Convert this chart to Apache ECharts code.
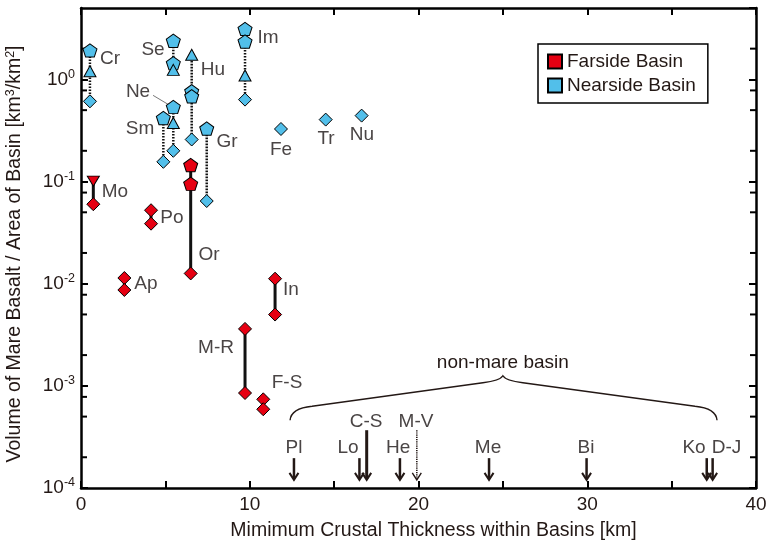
<!DOCTYPE html>
<html>
<head>
<meta charset="utf-8">
<script src="https://cdn.jsdelivr.net/npm/echarts@6/dist/echarts.min.js"></script>
<style>
html, body { margin: 0; padding: 0; background: #fff; }
#chart { width: 769px; height: 545px; }
</style>
</head>
<body>
<div id="chart"></div>
<script>
// nearside basins: thickness (km) and estimates (km3/km2), one method code per estimate
// P = pentagon, T = triangle, D = diamond, V = down triangle
const nearNames = ["Cr", "Se", "Ne", "Sm", "Hu", "Im", "Gr", "Fe", "Tr", "Nu"];
const nearThickness = [0.53, 5.47, 5.47, 4.88, 6.56, 9.72, 7.45, 11.85, 14.5, 16.63];
const nearValues = [
	[1.92, 1.2, 0.61],
	[2.39, 1.44, 1.24],
	[0.537, 0.375, 0.2],
	[0.419, 0.156],
	[1.74, 0.764, 0.683, 0.258],
	[3.12, 2.35, 1.09, 0.634],
	[0.33, 0.0645],
	[0.327],
	[0.404],
	[0.442],
];
const nearMethods = [
	["P", "T", "D"], ["P", "P", "T"], ["P", "T", "D"], ["P", "D"], ["T", "P", "P", "D"],
	["P", "P", "T", "D"], ["P", "D"], ["D"], ["D"], ["D"],
];

// farside basins
const farNames = ["Mo", "Po", "Or", "Ap", "In", "M-R", "F-S"];
const farThickness = [0.73, 4.15, 6.5, 2.57, 11.5, 9.72, 10.8];
const farValues = [
	[0.101, 0.06],
	[0.0524, 0.0387],
	[0.145, 0.0952, 0.0126],
	[0.01137, 0.00868],
	[0.0112, 0.00499],
	[0.00361, 0.000851],
	[0.000738, 0.00059],
];
const farMethods = [["V", "D"], ["D", "D"], ["P", "P", "D"], ["D", "D"], ["D", "D"], ["D", "D"], ["D", "D"]];

// non-mare basins (upper-limit arrows)
const nonMareNames = ["Pl", "Lo", "C-S", "He", "M-V", "Me", "Bi", "Ko", "D-J"];
const nonMareThickness = [12.62, 16.5, 16.93, 18.9, 19.9, 24.18, 29.96, 37.08, 37.43];
const nonMareTop = [1.96e-4, 1.96e-4, 3.68e-4, 1.96e-4, 3.68e-4, 1.96e-4, 1.96e-4, 1.96e-4, 1.96e-4];
const nonMareTip = 1.2e-4;
const nonMareKind = [0, 0, 1, 0, 2, 0, 0, 0, 0]; // 1 = thick, 2 = dotted

// text labels in data coordinates
const labelText = ["Cr", "Se", "Hu", "Im", "Ne", "Sm", "Gr", "Fe", "Tr", "Nu",
	"Mo", "Po", "Or", "Ap", "In", "M-R", "F-S",
	"Pl", "Lo", "C-S", "He", "M-V", "Me", "Bi", "Ko", "D-J"];
const labelX = [1.72, 4.27, 7.82, 11.08, 3.38, 3.5, 8.65, 11.85, 14.52, 16.65,
	2.01, 5.39, 7.59, 3.85, 12.44, 8.0, 12.21,
	12.62, 15.82, 16.89, 18.79, 19.85, 24.12, 29.93, 36.33, 38.25];
const labelY = [1.6, 1.96, 1.25, 2.57, 0.764, 0.325, 0.243, 0.203, 0.26, 0.284,
	0.079, 0.044, 0.0192, 0.01, 0.00874, 0.00238, 0.00108,
	2.45e-4, 2.45e-4, 4.5e-4, 2.45e-4, 4.5e-4, 2.45e-4, 2.45e-4, 2.45e-4, 2.45e-4];

// brace over the non-mare basins: left end, peak, right end
const braceX = [12.39, 25.0, 37.69];
const braceY = [4.6e-4, 1.2e-3];

const yMinorTicks = [2e-4, 5e-4, 7.8e-4, 2e-3, 5e-3, 7.8e-3, 2e-2, 5e-2, 7.8e-2, 0.2, 0.5, 0.78, 2];

const pentagon = "path://M0,-10 L9.51,-3.09 L5.88,8.09 L-5.88,8.09 L-9.51,-3.09 Z";
const INK = "#231815";
const LABEL = "#4a4545";
const FONT = "'Liberation Sans', Arial, sans-serif";

function symbolPoints(xs, vals, methods) {
	const out = [];
	xs.forEach((x, i) => {
		vals[i].forEach((v, j) => {
			const m = methods[i][j];
			const item = { value: [x, v] };
			if (m === "P") { item.symbol = pentagon; item.symbolSize = [14, 13.3]; }
			else if (m === "T") { item.symbol = "triangle"; item.symbolSize = [12, 11]; }
			else if (m === "V") { item.symbol = "triangle"; item.symbolSize = [12, 10]; item.symbolRotate = 180; }
			else { item.symbol = "diamond"; item.symbolSize = 13; }
			out.push(item);
		});
	});
	return out;
}

function ranges(xs, vals) {
	return xs.map((x, i) => [x, Math.max(...vals[i]), Math.min(...vals[i])]).filter((r) => r[1] !== r[2]);
}

const connector = (dash, width) => (params, api) => {
	const a = api.coord([api.value(0), api.value(1)]);
	const b = api.coord([api.value(0), api.value(2)]);
	return {
		type: "line",
		shape: { x1: a[0], y1: a[1], x2: b[0], y2: b[1] },
		style: { stroke: "#111", lineWidth: width, lineDash: dash },
	};
};

const chart = echarts.init(document.getElementById("chart"), null, { renderer: "canvas" });

const axisLine = { show: true, onZero: false, lineStyle: { color: "#000", width: 2.5 } };

const option = {
	animation: false,
	backgroundColor: "#fff",
	grid: { left: 81, right: 13, top: 8, bottom: 57, containLabel: false, outerBoundsMode: "none" },
	legend: {
		left: 538, top: 44, orient: "vertical",
		padding: [8, 12, 8, 9], itemGap: 5, itemWidth: 14, itemHeight: 14,
		borderColor: "#000", borderWidth: 1.5, backgroundColor: "#fff",
		icon: "rect",
		textStyle: { fontSize: 19, color: INK, fontFamily: FONT },
		data: ["Farside Basin", "Nearside Basin"],
	},
	xAxis: [
		{
			type: "value", min: 0, max: 40, interval: 5,
			name: "Mimimum Crustal Thickness within Basins [km]",
			nameLocation: "middle", nameGap: 33,
			nameTextStyle: { fontSize: 19.5, color: INK, fontFamily: FONT, padding: [0, 0, 0, 30] },
			axisLine: axisLine,
			axisTick: { inside: true, length: 7, lineStyle: { color: "#000", width: 2 } },
			axisLabel: {
				fontSize: 19, color: INK, fontFamily: FONT, margin: 7,
				formatter: (v) => (v % 10 === 0 ? String(v) : ""),
			},
			splitLine: { show: false },
		},
		{
			type: "value", min: 0, max: 40, interval: 5, position: "top",
			axisLine: axisLine,
			axisTick: { inside: true, length: 7, lineStyle: { color: "#000", width: 2 } },
			axisLabel: { show: false },
			splitLine: { show: false },
		},
	],
	yAxis: [
		{
			type: "log", logBase: 10, min: 1e-4, max: 5, interval: 1,
			name: "Volume of Mare Basalt / Area of Basin [km{s|3}/km{s|2}]",
			nameLocation: "middle", nameGap: 55,
			nameTextStyle: {
				fontSize: 19.5, color: INK, fontFamily: FONT, padding: [0, 12, 0, 0],
				rich: { s: { fontSize: 12.5, fontFamily: FONT, color: INK, padding: [0, 0, 9, 0] } },
			},
			axisLine: axisLine,
			axisTick: { inside: true, length: 7, lineStyle: { color: "#000", width: 2 } },
			axisLabel: {
				color: INK, margin: 6, showMaxLabel: false,
				formatter: (v) => {
					const e = Math.round(Math.log10(v));
					if (Math.abs(Math.log10(v) - e) > 1e-6) return "";
					return "{b|10}{s|" + e + "}";
				},
				rich: {
					b: { fontSize: 19, fontFamily: FONT, color: INK },
					s: { fontSize: 12.5, fontFamily: FONT, color: INK, padding: [0, 0, 10, 0] },
				},
			},
			splitLine: { show: false },
		},
		{
			type: "log", logBase: 10, min: 1e-4, max: 5, interval: 1, position: "right",
			axisLine: axisLine,
			axisTick: { inside: true, length: 7, lineStyle: { color: "#000", width: 2 } },
			axisLabel: { show: false },
			splitLine: { show: false },
		},
	],
	series: [
		{
			// minor ticks on the log axes
			type: "custom", silent: true, z: 1,
			data: yMinorTicks.map((v) => [0, v]),
			renderItem: (params, api) => {
				const l = api.coord([0, api.value(1)]);
				const r = api.coord([40, api.value(1)]);
				return {
					type: "group",
					children: [
						{ type: "line", shape: { x1: l[0], y1: l[1], x2: l[0] + 6, y2: l[1] }, style: { stroke: "#000", lineWidth: 2 } },
						{ type: "line", shape: { x1: r[0], y1: r[1], x2: r[0] - 6, y2: r[1] }, style: { stroke: "#000", lineWidth: 2 } },
					],
				};
			},
		},
		{
			type: "custom", silent: true, z: 2,
			data: ranges(nearThickness, nearValues),
			renderItem: connector([1.6, 1.4], 2.5),
		},
		{
			type: "custom", silent: true, z: 2,
			data: ranges(farThickness, farValues),
			renderItem: connector(null, 3),
		},
		{
			name: "Nearside Basin", type: "scatter", z: 3,
			itemStyle: { color: "#52bfea", borderColor: "#000", borderWidth: 1, opacity: 1 },
			data: symbolPoints(nearThickness, nearValues, nearMethods),
		},
		{
			name: "Farside Basin", type: "scatter", z: 4,
			itemStyle: { color: "#e60012", borderColor: "#000", borderWidth: 1, opacity: 1 },
			data: symbolPoints(farThickness, farValues, farMethods),
		},
		{
			// Ne leader line
			type: "line", silent: true, z: 2, symbol: "none",
			lineStyle: { color: "#555", width: 0.8 },
			data: [[4.27, 0.698], [5.16, 0.57]],
		},
		{
			// non-mare arrows
			type: "custom", silent: true, z: 2,
			data: nonMareThickness.map((x, i) => [x, nonMareTop[i], nonMareTip, nonMareKind[i]]),
			renderItem: (params, api) => {
				const a = api.coord([api.value(0), api.value(1)]);
				const b = api.coord([api.value(0), api.value(2)]);
				const kind = api.value(3);
				const w = kind === 1 ? 3 : kind === 2 ? 1.6 : 2.5;
				const dash = kind === 2 ? [1.2, 1] : null;
				return {
					type: "group",
					children: [
						{ type: "line", shape: { x1: a[0], y1: a[1], x2: b[0], y2: b[1] - 1 }, style: { stroke: INK, lineWidth: w, lineDash: dash } },
						{ type: "polyline", shape: { points: [[b[0] - 4.5, b[1] - 7], [b[0], b[1]], [b[0] + 4.5, b[1] - 7]] }, style: { stroke: INK, lineWidth: kind === 2 ? 1.4 : 2, fill: null } },
					],
				};
			},
		},
		{
			// brace
			type: "custom", silent: true, z: 2,
			data: [[braceX[0], braceY[0], braceX[1], braceY[1], braceX[2]]],
			renderItem: (params, api) => {
				const L = api.coord([api.value(0), api.value(1)]);
				const P = api.coord([api.value(2), api.value(3)]);
				const R = api.coord([api.value(4), api.value(1)]);
				const d = [
					"M", L[0], L[1],
					"Q", L[0] + 1, L[1] - 12, L[0] + 22, L[1] - 14,
					"L", P[0] - 20, P[1] + 5,
					"Q", P[0] - 3, P[1] + 3, P[0], P[1] - 2,
					"Q", P[0] + 3, P[1] + 3, P[0] + 20, P[1] + 5,
					"L", R[0] - 22, R[1] - 14,
					"Q", R[0] - 1, R[1] - 12, R[0], R[1],
				].join(" ");
				return { type: "path", shape: { pathData: d }, style: { stroke: INK, lineWidth: 1.4, fill: null } };
			},
		},
		{
			// basin labels
			type: "custom", silent: true, z: 5,
			data: labelText.map((t, i) => [labelX[i], labelY[i], i]),
			renderItem: (params, api) => {
				const p = api.coord([api.value(0), api.value(1)]);
				return {
					type: "text", x: p[0], y: p[1],
					style: {
						text: labelText[api.value(2)], fill: LABEL,
						font: "19px " + FONT, align: "center", verticalAlign: "middle",
					},
				};
			},
		},
		{
			type: "custom", silent: true, z: 5,
			data: [[25.0, 1.69e-3]],
			renderItem: (params, api) => {
				const p = api.coord([api.value(0), api.value(1)]);
				return {
					type: "text", x: p[0], y: p[1],
					style: { text: "non-mare basin", fill: INK, font: "19px " + FONT, align: "center", verticalAlign: "middle" },
				};
			},
		},
	],
};

chart.setOption(option);
</script>
</body>
</html>
